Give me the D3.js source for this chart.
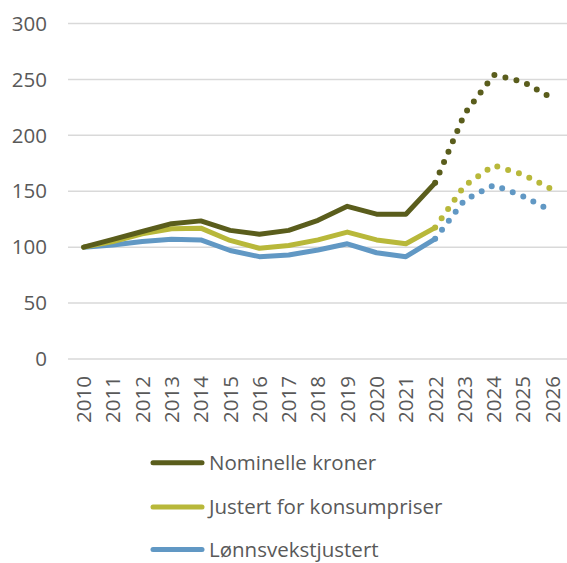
<!DOCTYPE html>
<html>
<head>
<meta charset="utf-8">
<script src="https://cdn.jsdelivr.net/npm/d3@7"></script>
<style>
  body { margin: 0; background: #fff; }
  text { font-family: "Open Sans", sans-serif; fill: #595959; }
</style>
</head>
<body>
<div id="chart"></div>
<script>
// years on the x axis
var years = ["2010","2011","2012","2013","2014","2015","2016","2017","2018","2019","2020","2021","2022","2023","2024","2025","2026"];
var yTicks = [0, 50, 100, 150, 200, 250, 300];

// historic values 2010-2022 (solid)
var nominelle = [100, 107, 114, 121, 123.5, 115, 111.5, 115, 124, 136.5, 129.5, 129.5, 157.5];
var konsumpris = [100, 105, 112, 116.5, 117, 106, 99, 101.5, 106.5, 113.5, 106.5, 103, 117.5];
var lonnsvekst = [100, 102, 105, 107, 106.5, 97, 91.5, 93, 97.5, 103, 95, 91.5, 107.5];

// projections 2022-2026 (dotted)
var nominelleProj = [157.5, 219, 254, 248, 233];
var konsumprisProj = [117.5, 155, 173, 165, 151.5];
var lonnsvekstProj = [107.5, 142, 155.5, 145.5, 132];

var seriesNames = ["Nominelle kroner", "Justert for konsumpriser", "Lønnsvekstjustert"];
var colors = ["#5a5d1c", "#b8b83a", "#6198c4"];

var width = 567, height = 563;

var svg = d3.select("#chart").append("svg")
    .attr("width", width)
    .attr("height", height);

var x = d3.scalePoint()
    .domain(years)
    .range([69, 567])
    .padding(0.5);

var y = d3.scaleLinear()
    .domain([0, 300])
    .range([359, 23.5]);

// gridlines
svg.selectAll(".grid")
    .data(yTicks)
  .enter().append("line")
    .attr("class", "grid")
    .attr("x1", 68)
    .attr("x2", 567)
    .attr("y1", function(d) { return y(d); })
    .attr("y2", function(d) { return y(d); })
    .attr("stroke", "#d9d9d9")
    .attr("stroke-width", 1.5);

// y labels
svg.selectAll(".ylab")
    .data(yTicks)
  .enter().append("text")
    .attr("class", "ylab")
    .attr("x", 47)
    .attr("y", function(d) { return y(d); })
    .attr("dy", "0.35em")
    .attr("text-anchor", "end")
    .style("font-size", "20.5px")
    .text(function(d) { return d; });

// x labels (rotated)
svg.selectAll(".xlab")
    .data(years)
  .enter().append("text")
    .attr("class", "xlab")
    .attr("transform", function(d) { return "translate(" + x(d) + ",376) rotate(-90)"; })
    .attr("dy", "0.36em")
    .attr("text-anchor", "end")
    .style("font-size", "20.5px")
    .text(function(d) { return d; });

var line = d3.line()
    .x(function(d) { return x(d[0]); })
    .y(function(d) { return y(d[1]); });

var solid = [nominelle, konsumpris, lonnsvekst];
var proj = [nominelleProj, konsumprisProj, lonnsvekstProj];

// draw bottom series first so the dark one is on top
for (var i = 2; i >= 0; i--) {
  var pts = solid[i].map(function(v, j) { return [years[j], v]; });
  var ptsP = proj[i].map(function(v, j) { return [years[12 + j], v]; });

  svg.append("path")
    .datum(ptsP)
    .attr("d", line)
    .attr("fill", "none")
    .attr("stroke", colors[i])
    .attr("stroke-width", 6)
    .attr("stroke-linecap", "round")
    .attr("stroke-dasharray", "0 11.3");

  svg.append("path")
    .datum(pts)
    .attr("d", line)
    .attr("fill", "none")
    .attr("stroke", colors[i])
    .attr("stroke-width", 5)
    .attr("stroke-linejoin", "round")
    .attr("stroke-linecap", "round");
}

// legend
var legendY = [462.7, 507, 549.5];
var legend = svg.selectAll(".legend")
    .data(seriesNames)
  .enter().append("g")
    .attr("class", "legend")
    .attr("transform", function(d, i) { return "translate(0," + legendY[i] + ")"; });

legend.append("line")
    .attr("x1", 153)
    .attr("x2", 202)
    .attr("stroke", function(d, i) { return colors[i]; })
    .attr("stroke-width", 5)
    .attr("stroke-linecap", "round");

legend.append("text")
    .attr("x", 209)
    .attr("dy", "0.35em")
    .style("font-size", "20.5px")
    .text(function(d) { return d; });
</script>
</body>
</html>
